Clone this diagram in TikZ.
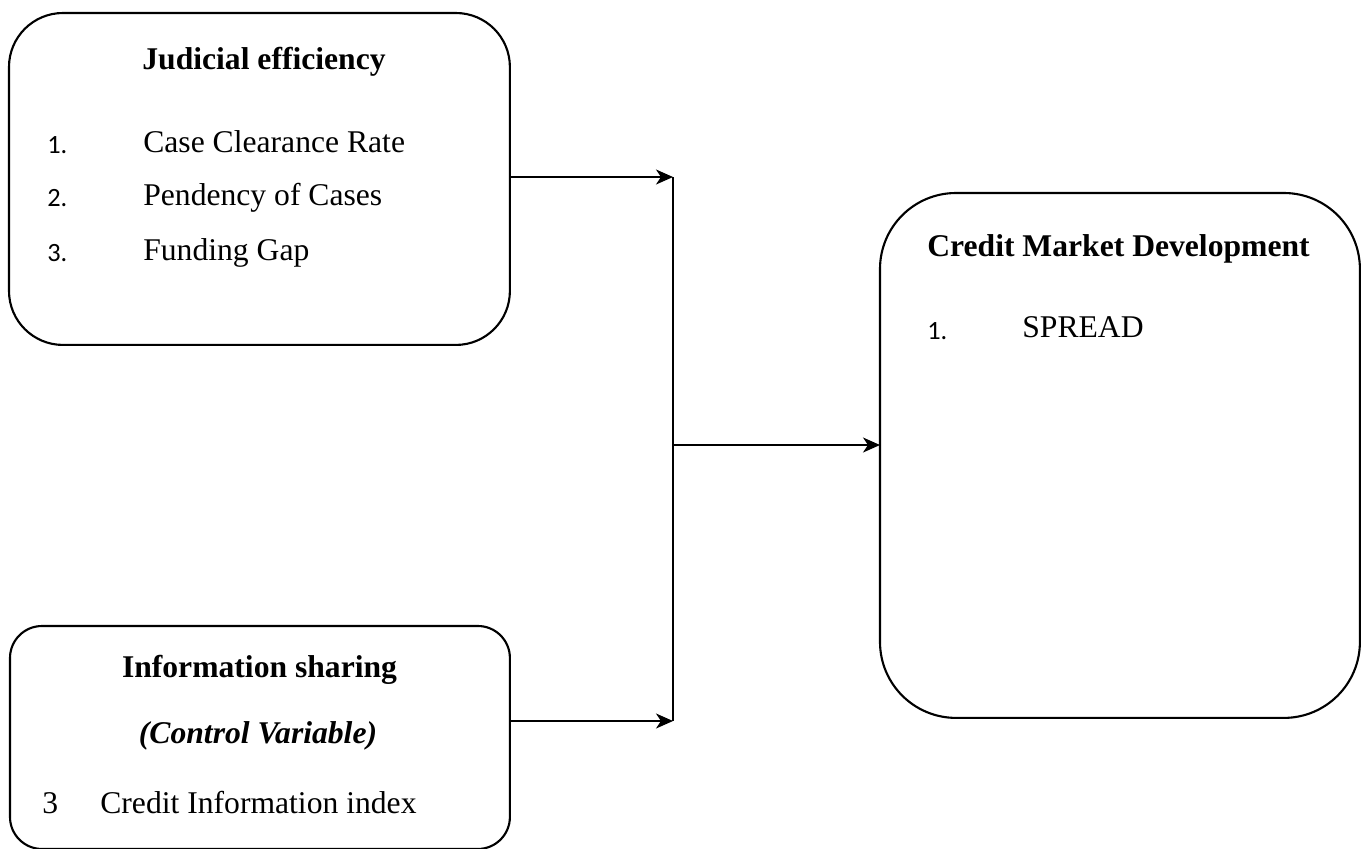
\documentclass[tikz,border=0pt]{standalone}
\usepackage{fontspec}
\setmainfont{Liberation Serif}
\newfontfamily\numfont{Carlito}
\usepackage{tikz}
\usetikzlibrary{arrows.meta, positioning}

\begin{document}
\begin{tikzpicture}[x=0.02cm, y=-0.02cm,
        box/.style={rectangle, draw=black, line width=1.2pt, inner sep=0pt, outer sep=0pt, anchor=north west},
        title/.style={anchor=base, inner sep=0pt, font=\fontsize{18}{22}\selectfont\bfseries},
        item/.style={anchor=base west, inner sep=0pt, font=\fontsize{18}{22}\selectfont},
        num/.style={anchor=base west, inner sep=0pt, font=\fontsize{15}{18}\selectfont\numfont},
        arrow/.style={-{Stealth[length=0.34cm, width=0.3cm, inset=0.1cm]}, line width=1.2pt}
    ]
        \useasboundingbox (0,0) rectangle (1367,849);

        % Cajas
        \node[box, minimum width=10.02cm, minimum height=6.64cm, rounded corners=1.08cm] (judicial) at (9,13) {};
        \node[box, minimum width=10cm, minimum height=4.46cm, rounded corners=0.64cm] (info) at (10,626) {};
        \node[box, minimum width=9.6cm, minimum height=10.5cm, rounded corners=1.52cm] (credit) at (880,193) {};

        % Textos
        \node[title] (jtitle) at (264,69) {Judicial efficiency};
        \node[num] (jn1) at (47,153) {1.};
        \node[num] (jn2) at (47,206) {2.};
        \node[num] (jn3) at (47,261) {3.};
        \node[item] (ji1) at (143,152) {Case Clearance Rate};
        \node[item] (ji2) at (143,205) {Pendency of Cases};
        \node[item] (ji3) at (143,260) {Funding Gap};

        \node[title] (ititle) at (259.5,677) {Information sharing};
        \node[title, font=\fontsize{18}{22}\selectfont\bfseries\itshape] (icontrol) at (258,743) {(Control Variable)};
        \node[item] (in3) at (42,813) {3};
        \node[item] (ii1) at (100,813) {Credit Information index};

        \node[title, anchor=base west] (ctitle) at (927,256) {Credit Market Development};
        \node[num] (cn1) at (927,339) {1.};
        \node[item] (ci1) at (1022,337) {SPREAD};

        % Conexiones
        \coordinate (jtop) at (673,177);
        \coordinate (ibot) at (673,721);
        \coordinate (join) at (673,445);
        \draw[arrow] (judicial.east |- jtop) -- (jtop);
        \draw[arrow] (info.east |- ibot) -- (ibot);
        \draw[line width=1.2pt] (jtop) -- (ibot);
        \draw[arrow] (join) -- (credit.west |- join);
    \end{tikzpicture}
\end{document}
